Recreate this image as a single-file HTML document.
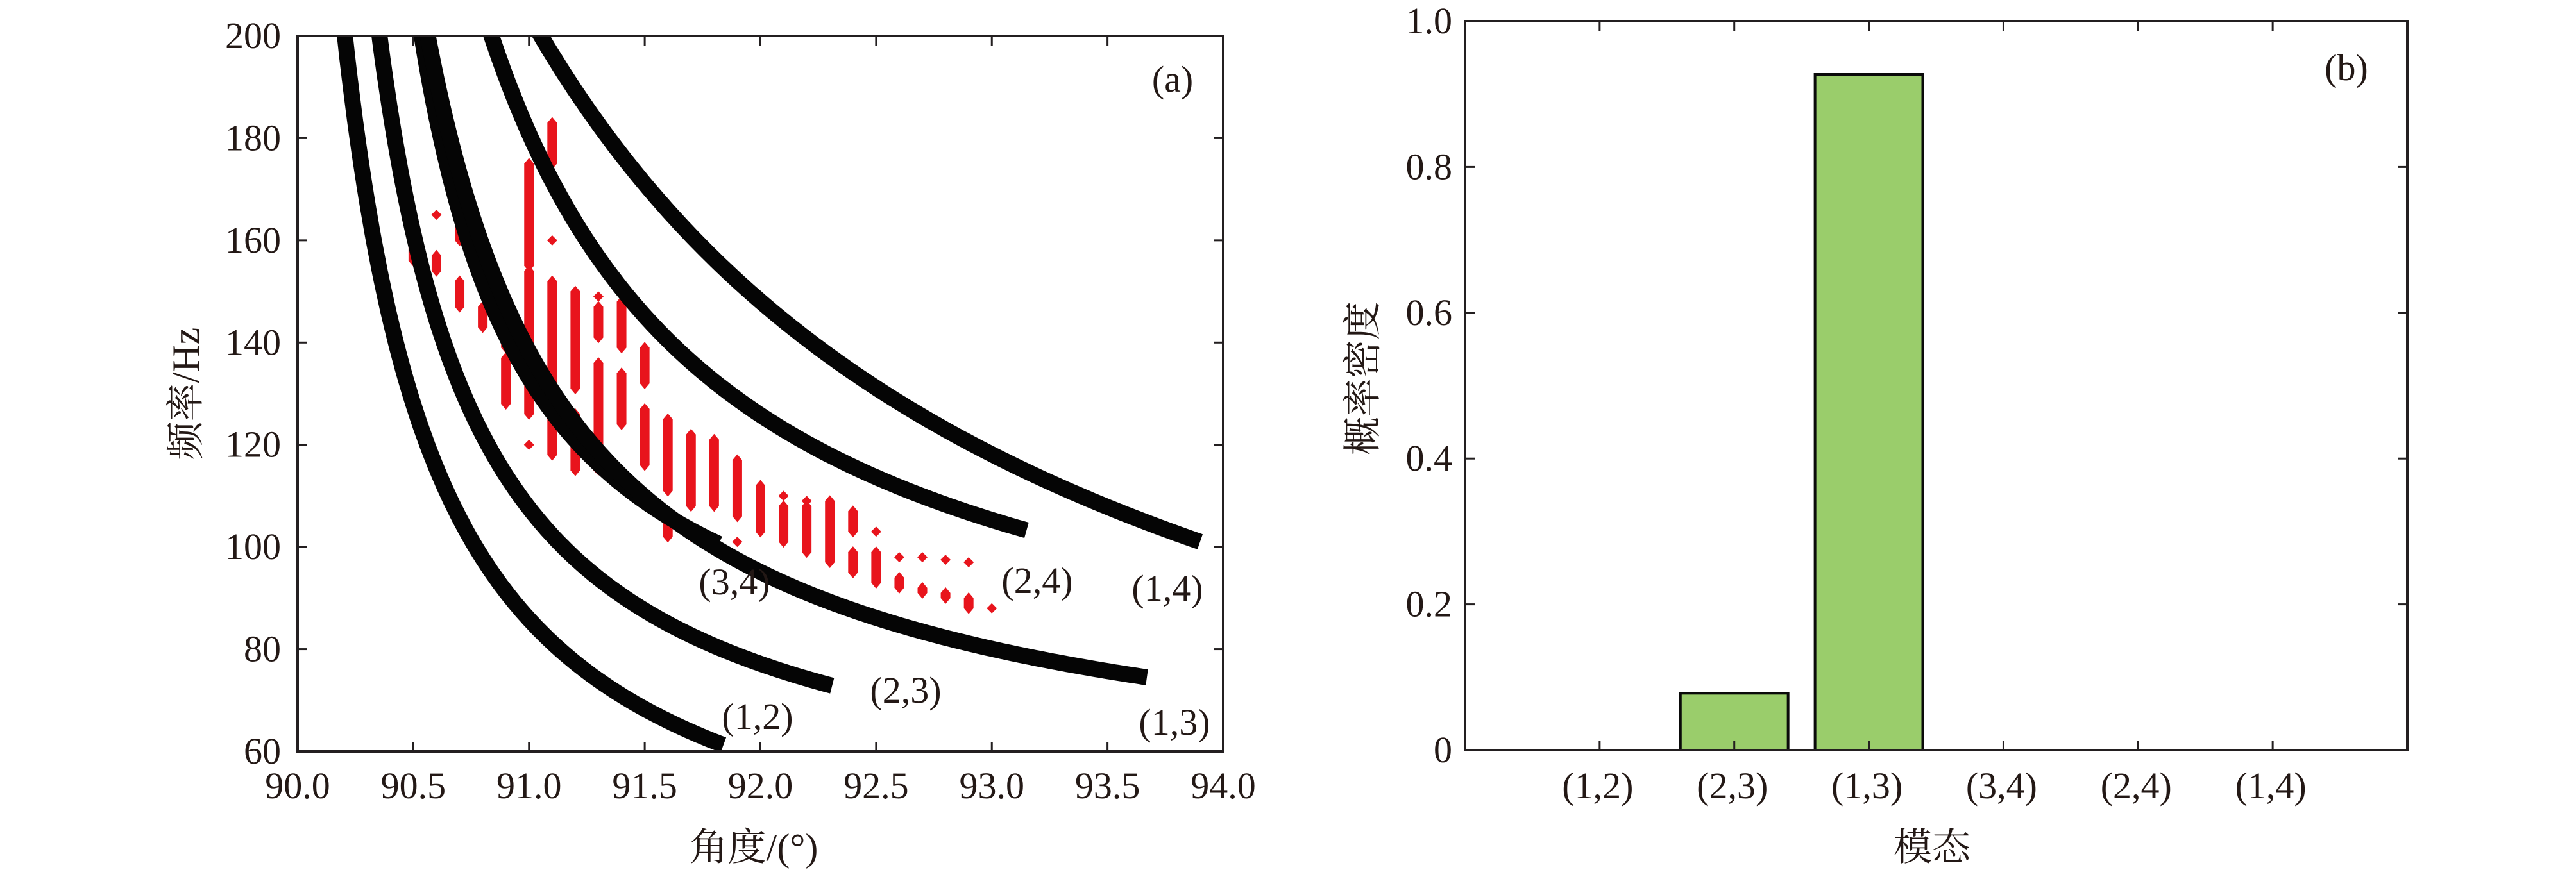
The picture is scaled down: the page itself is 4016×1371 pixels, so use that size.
<!DOCTYPE html>
<html><head><meta charset="utf-8"><style>
html,body{margin:0;padding:0;background:#fff;}
svg{display:block;}
text{font-family:"Liberation Serif","Noto Serif CJK SC",serif;fill:#231815;}
</style></head><body>
<svg id="fig" width="4016" height="1371" viewBox="0 0 4016 1371" xmlns="http://www.w3.org/2000/svg">
<rect width="4016" height="1371" fill="#fff"/>
<g id="left"></g>
<g id="right"></g>
</svg>
<script>
// ---- panel (a) data ----
const curveNames = ["(1,2)","(2,3)","(3,4)","(1,3)","(2,4)","(1,4)"];
const c12f = [200,180,160,140,120,100,80,70,60];
const c12a = [90.22,90.24,90.32,90.43,90.57,90.78,91.15,91.43,91.84];
const c23f = [200,180,160,140,120,100,90,80,73];
const c23a = [90.36,90.41,90.50,90.64,90.84,91.16,91.40,91.79,92.31];
const c34f = [200,180,160,140,120,110,100];
const c34a = [90.54,90.61,90.74,90.92,91.22,91.48,91.82];
const c13f = [200,180,160,140,120,100,90,80,72.8];
const c13a = [90.57,90.65,90.78,90.98,91.29,91.84,92.32,93.01,93.67];
const c24f = [200,182.1,166.1,152.7,142.9,133.9,125.9,119.6,114.3,108.0,100.4];
const c24a = [90.84,91.00,91.15,91.33,91.53,91.79,92.04,92.30,92.55,92.81,93.15];
const c14f = [200,182.1,168.8,157.1,147.3,137.5,129.5,123.2,117.0,111.6,106.3,100.4];
const c14a = [91.07,91.28,91.53,91.79,92.04,92.30,92.55,92.81,93.06,93.32,93.57,93.90];
const redAngle = [90.5,90.6,90.6,90.7,90.7,90.8,90.8,90.9,90.9,91.0,91.0,91.0,91.1,91.1,91.1,91.2,91.2,91.3,91.3,91.3,91.3,91.4,91.4,91.4,91.5,91.5,91.6,91.6,91.7,91.7,91.8,91.9,91.9,92.0,92.1,92.1,92.2,92.2,92.3,92.4,92.4,92.5,92.5,92.6,92.6,92.7,92.7,92.8,92.8,92.9,92.9,93.0];
const redLow   = [156,165,154,160,147,151,143,139,128,155,126,120,175,160,118,131,115,149,141,117,115,139,124,114,132,116,111,102,108,102,108,106,101,103,110,101,109,99,97,103,95,103,93,98,92,98,91,97.5,90,97,88,88];
const redHigh  = [162,165,157,165,152,154,147,145,137,175,154,120,183,160,152,150,126,149,147,136,115,148,134,114,139,127,125,106,122,102,121,117,101,112,110,108,109,108,109,107,99,103,99,98,94,98,92,97.5,91,97,90,88];
const xTicksA = [90.0,90.5,91.0,91.5,92.0,92.5,93.0,93.5,94.0];
const yTicksA = [60,80,100,120,140,160,180,200];
// ---- panel (b) data ----
const modes = ["(1,2)","(2,3)","(1,3)","(3,4)","(2,4)","(1,4)"];
const probs = [0,0.078,0.927,0,0,0];
const yTicksB = [0,0.2,0.4,0.6,0.8,1.0];
const yTickLabelsB = ["0","0.2","0.4","0.6","0.8","1.0"];

const NS="http://www.w3.org/2000/svg";
function mk(parent,tag,attrs,txt){const e=document.createElementNS(NS,tag);for(const k in attrs)e.setAttribute(k,attrs[k]);if(txt!==undefined)e.textContent=txt;parent.appendChild(e);return e;}

// ---- panel (a) ----
const L=document.getElementById('left');
const ax={x0:464,x1:1907,y0:56,y1:1172};
const sxA=v=>ax.x0+(v-90)/4*(ax.x1-ax.x0);
const syA=v=>ax.y1-(v-60)/140*(ax.y1-ax.y0);
const clip=mk(L,'clipPath',{id:'clipA'});mk(clip,'rect',{x:ax.x0,y:ax.y0,width:ax.x1-ax.x0,height:ax.y1-ax.y0});
const plotA=mk(L,'g',{'clip-path':'url(#clipA)'});
for(let i=0;i<redAngle.length;i++){
  const x=sxA(redAngle[i]),yt=syA(redHigh[i]),yb=syA(redLow[i]);
  let el;
  if(redHigh[i]===redLow[i]){
    el=mk(plotA,'polygon',{points:`${x},${yt-8} ${x+8},${yt} ${x},${yt+8} ${x-8},${yt}`,fill:'#e8141c'});
  } else {
    const w=7.5;
    el=mk(plotA,'polygon',{points:`${x},${yt-9} ${x+w},${yt} ${x+w},${yb} ${x},${yb+9} ${x-w},${yb} ${x-w},${yt}`,fill:'#e8141c'});
  }
  
  
}
// fit f = a/(theta-t0) + b to each curve's points and draw the smooth fit
function fitCurve(fs,as){
  const amin=Math.min(...as);let best=null;
  for(let t0=amin-3;t0<amin-0.005;t0+=0.002){
    const xs=as.map(a=>1/(a-t0));const n=xs.length;
    const mx=xs.reduce((s,v)=>s+v,0)/n,my=fs.reduce((s,v)=>s+v,0)/n;
    let sxy=0,sxx=0;for(let i=0;i<n;i++){sxy+=(xs[i]-mx)*(fs[i]-my);sxx+=(xs[i]-mx)**2;}
    const a=sxy/sxx,b=my-a*mx;let e=0;for(let i=0;i<n;i++)e+=(a*xs[i]+b-fs[i])**2;
    if(!best||e<best.e)best={e,a,b,t0};
  }
  return best;
}
const cf=[c12f,c23f,c34f,c13f,c24f,c14f],ca=[c12a,c23a,c34a,c13a,c24a,c14a];
for(let k=0;k<6;k++){
  const F=fitCurve(cf[k],ca[k]);
  const aEnd=ca[k][ca[k].length-1];
  // start where fit crosses ~206 Hz
  const aStart=F.t0+F.a/(206-F.b);
  let d='';const N=200;
  for(let j=0;j<=N;j++){const th=aStart+(aEnd-aStart)*j/N;const f=F.a/(th-F.t0)+F.b;d+=(j?'L':'M')+sxA(th).toFixed(1)+','+syA(f).toFixed(1);}
  const p=mk(plotA,'path',{d:d,fill:'none',stroke:'#050505','stroke-width':25,'stroke-linejoin':'round'});
  
  
}
mk(L,'rect',{x:ax.x0,y:ax.y0,width:ax.x1-ax.x0,height:ax.y1-ax.y0,fill:'none',stroke:'#231f20','stroke-width':4});
for(const v of xTicksA){const x=sxA(v);
  mk(L,'line',{x1:x,x2:x,y1:ax.y1,y2:ax.y1-15,stroke:'#231f20','stroke-width':3});
  mk(L,'line',{x1:x,x2:x,y1:ax.y0,y2:ax.y0+15,stroke:'#231f20','stroke-width':3});
  const t=mk(L,'text',{x:x,y:1245,'font-size':58,'text-anchor':'middle'},v.toFixed(1));
  
  
}
for(const v of yTicksA){const y=syA(v);
  mk(L,'line',{x1:ax.x0,x2:ax.x0+15,y1:y,y2:y,stroke:'#231f20','stroke-width':3});
  mk(L,'line',{x1:ax.x1,x2:ax.x1-15,y1:y,y2:y,stroke:'#231f20','stroke-width':3});
  const t=mk(L,'text',{x:438,y:y+19,'font-size':58,'text-anchor':'end'},String(v));
  
  
}
const labPos=[[1181,1117],[1412,1076],[1145,907],[1831,1126],[1617,905],[1820,917]];
for(let k=0;k<6;k++){const t=mk(L,'text',{x:labPos[k][0],y:labPos[k][1]+20,'font-size':58,'text-anchor':'middle'},curveNames[k]);
  
  }
let t=mk(L,'text',{x:1828,y:143,'font-size':58,'text-anchor':'middle'},'(a)');

t=mk(L,'text',{x:1175,y:1342,'font-size':60,'text-anchor':'middle'},'角度/(°)');

t=mk(L,'text',{x:0,y:0,'font-size':60,'text-anchor':'middle',transform:'translate(310,614) rotate(-90)'},'频率/Hz');


// ---- panel (b) ----
const R=document.getElementById('right');
const bx={x0:2284,x1:3753,y0:33,y1:1170};
const sxB=i=>bx.x0+(i+1)/7*(bx.x1-bx.x0);
const syB=v=>bx.y1-v*(bx.y1-bx.y0);
const bw=0.8/7*(bx.x1-bx.x0);
for(let i=0;i<modes.length;i++){
  if(probs[i]<=0)continue;
  const r=mk(R,'rect',{x:sxB(i)-bw/2,y:syB(probs[i]),width:bw,height:syB(0)-syB(probs[i]),fill:'#9acd6b',stroke:'#0a0a0a','stroke-width':4});
  
  
}
mk(R,'rect',{x:bx.x0,y:bx.y0,width:bx.x1-bx.x0,height:bx.y1-bx.y0,fill:'none',stroke:'#231f20','stroke-width':4});
for(let i=0;i<modes.length;i++){const x=sxB(i);
  mk(R,'line',{x1:x,x2:x,y1:bx.y1,y2:bx.y1-15,stroke:'#231f20','stroke-width':3});
  mk(R,'line',{x1:x,x2:x,y1:bx.y0,y2:bx.y0+15,stroke:'#231f20','stroke-width':3});
  const tt=mk(R,'text',{x:x-3,y:1245,'font-size':58,'text-anchor':'middle'},modes[i]);
  
  
}
for(let i=0;i<yTicksB.length;i++){const y=syB(yTicksB[i]);
  mk(R,'line',{x1:bx.x0,x2:bx.x0+15,y1:y,y2:y,stroke:'#231f20','stroke-width':3});
  mk(R,'line',{x1:bx.x1,x2:bx.x1-15,y1:y,y2:y,stroke:'#231f20','stroke-width':3});
  const tt=mk(R,'text',{x:2264,y:y+19,'font-size':58,'text-anchor':'end'},yTickLabelsB[i]);
  
  
}
t=mk(R,'text',{x:3658,y:125,'font-size':58,'text-anchor':'middle'},'(b)');

t=mk(R,'text',{x:3012,y:1342,'font-size':60,'text-anchor':'middle'},'模态');

t=mk(R,'text',{x:0,y:0,'font-size':60,'text-anchor':'middle',transform:'translate(2145,590) rotate(-90)'},'概率密度');

</script>
</body></html>
